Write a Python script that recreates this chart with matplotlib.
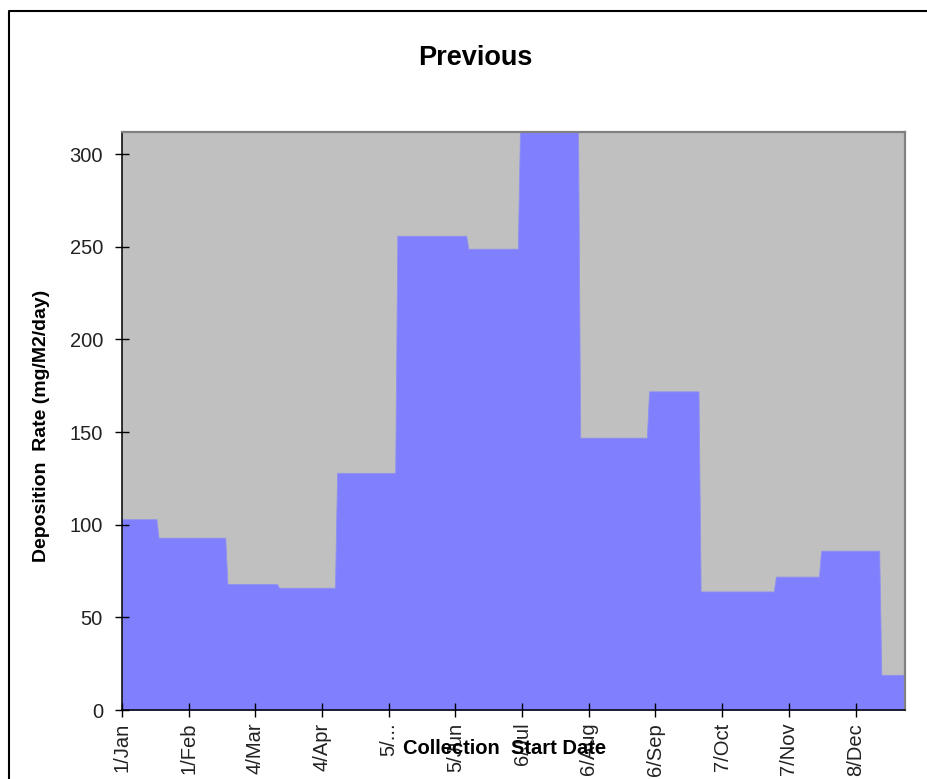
import matplotlib.pyplot as plt
import pandas as pd
import numpy as np
from matplotlib.lines import Line2D

plt.rcParams['font.family'] = ['Liberation Sans', 'DejaVu Sans']

# collection periods (start dates) and deposition rate for each period
start_dates = ['2009-01-01', '2009-01-18', '2009-02-19', '2009-03-15', '2009-04-11',
               '2009-05-09', '2009-06-11', '2009-07-05', '2009-08-02', '2009-09-03',
               '2009-09-27', '2009-11-01', '2009-11-22', '2009-12-20']
year_end = '2009-12-31'
rates = [103, 93, 68, 66, 128, 256, 249, 312, 147, 172, 64, 72, 86, 19]

tick_labels = ['1/Jan', '1/Feb', '4/Mar', '4/Apr', '5/...', '5/Jun',
               '6/Jul', '6/Aug', '6/Sep', '7/Oct', '7/Nov', '8/Dec']
y_ticks = [0, 50, 100, 150, 200, 250, 300]

W, H = 928, 779
fig = plt.figure(figsize=(W / 100, H / 100), dpi=100)

# day offsets from Jan 1
origin = pd.Timestamp(start_dates[0])
starts = np.array([(pd.Timestamp(d) - origin).days for d in start_dates])
ends = np.append(starts[1:] - 1, (pd.Timestamp(year_end) - origin).days)

xs = np.column_stack([starts, ends]).ravel()
ys = np.repeat(rates, 2)

ax = fig.add_axes([122 / W, 1 - 710 / H, (905 - 122) / W, (710 - 132) / H])
ax.set_facecolor('#C0C0C0')
ax.fill_between(xs, ys, 0, color='#8080FF', edgecolor='#9090F0', linewidth=0.6)

ax.set_xlim(0, ends[-1])
ax.set_ylim(0, 312)
ax.set_yticks(y_ticks)
ax.set_xticks(np.arange(len(tick_labels)) * 31)
ax.set_xticklabels(tick_labels, rotation=90)

ax.tick_params(axis='both', direction='inout', length=9.5, width=1,
               labelsize=14.5, colors='black', labelcolor='#222222')
ax.tick_params(axis='y', pad=9)
ax.tick_params(axis='x', pad=4.5)

for side in ['top', 'right']:
    ax.spines[side].set_color('#808080')
    ax.spines[side].set_linewidth(1.6)
for side in ['left', 'bottom']:
    ax.spines[side].set_color('black')
    ax.spines[side].set_linewidth(1.1)

fig.text(475 / W, 1 - 58 / H, 'Previous', ha='center', va='center',
         fontsize=19.5, fontweight='bold')
fig.text(505 / W, 1 - 748 / H, 'Collection  Start Date', ha='center', va='center',
         fontsize=14.5, fontweight='bold', zorder=10)
fig.text(42 / W, 1 - 426 / H, 'Deposition  Rate (mg/M2/day)', ha='center', va='center',
         rotation=90, fontsize=14, fontweight='bold')

# outer frame (top and left edges visible)
fig.add_artist(Line2D([9.5 / W, 9.5 / W, 1], [0, 1 - 10.5 / H, 1 - 10.5 / H],
                      transform=fig.transFigure, color='black', linewidth=1.5))

fig.savefig('out.png', dpi=100)
